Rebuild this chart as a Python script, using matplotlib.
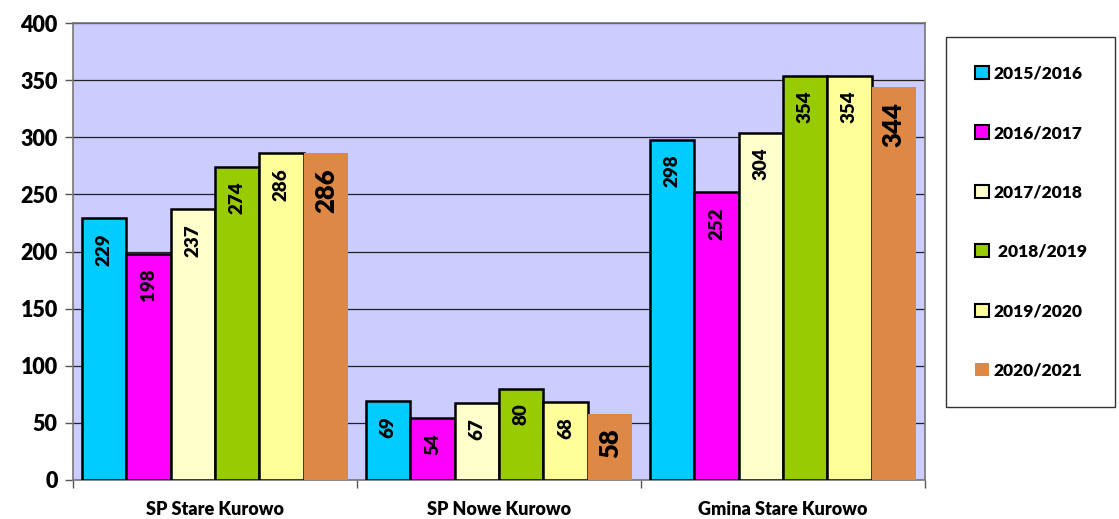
import numpy as np
import matplotlib
matplotlib.use("Agg")
import matplotlib.pyplot as plt
from matplotlib.patches import Patch

plt.rcParams['font.family'] = ['Lato', 'DejaVu Sans']
plt.rcParams['font.weight'] = 'bold'

schools = ["SP Stare Kurowo", "SP Nowe Kurowo", "Gmina Stare Kurowo"]
years = ["2015/2016", "2016/2017", "2017/2018", "2018/2019", "2019/2020", "2020/2021"]
values = [
    [229, 69, 298],
    [198, 54, 252],
    [237, 67, 304],
    [274, 80, 354],
    [286, 68, 354],
    [286, 58, 344],
]
colors = ["#00CCFF", "#FF00FF", "#FFFFCC", "#99CC00", "#FFFF99", "#DD8844"]
legend_names = ["2015/2016", "2016/2017", "2017/2018", " 2018/2019", "2019/2020", "2020/2021"]

fig = plt.figure(figsize=(11.19, 5.19), dpi=100)
ax = fig.add_axes([73 / 1119, 1 - 480 / 519, 852 / 1119, 457 / 519])
ax.set_facecolor("#CCCCFF")

x = np.arange(len(schools))
w = 0.156
for i, (vals, c) in enumerate(zip(values, colors)):
    pos = x - 2.5 * w + i * w
    last = i == len(values) - 1
    ax.bar(pos, vals, width=w, color=c,
           edgecolor="none" if last else "black",
           linewidth=0 if last else 1.8, zorder=3)
    for p, v in zip(pos, vals):
        ax.text(p, v - 13, str(v), rotation=90, ha="center", va="top",
                fontsize=18.5 if last else 13.5, fontweight="heavy", zorder=4)

ax.set_xlim(-0.5, 2.5)
ax.set_ylim(0, 400)
ax.set_yticks(range(0, 401, 50))
ax.tick_params(axis="y", labelsize=15.5, length=6, width=1, color="#555555", pad=5)
for t in ax.get_yticklabels():
    t.set_fontweight("heavy")
ax.set_xticks([-0.5, 0.5, 1.5, 2.5])
ax.set_xticklabels([])
ax.tick_params(axis="x", length=6, width=1, color="#555555")
for xi, s in zip(x, schools):
    ax.text(xi, -0.064, s, transform=ax.get_xaxis_transform(), ha="center",
            va="center", fontsize=13, fontweight="heavy")
ax.grid(axis="y", color="#222222", linewidth=0.9, zorder=0)
for sp in ax.spines.values():
    sp.set_color("#777777")
    sp.set_linewidth(1.2)

handles = []
for i, (c, n) in enumerate(zip(colors, legend_names)):
    last = i == len(colors) - 1
    handles.append(Patch(facecolor=c, edgecolor="none" if last else "black",
                         linewidth=0 if last else 1.5, label=n))
leg = fig.legend(handles=handles, loc="upper left",
                 bbox_to_anchor=(946 / 1119, 1 - 37 / 519),
                 frameon=True, fancybox=False, fontsize=12.5,
                 handlelength=0.8, handleheight=0.8, handletextpad=0.3,
                 labelspacing=2.5, borderpad=1.65, borderaxespad=0)
leg.get_frame().set_edgecolor("black")
leg.get_frame().set_linewidth(1)
for t in leg.get_texts():
    t.set_fontweight("heavy")

fig.savefig("out.png", dpi=100)
